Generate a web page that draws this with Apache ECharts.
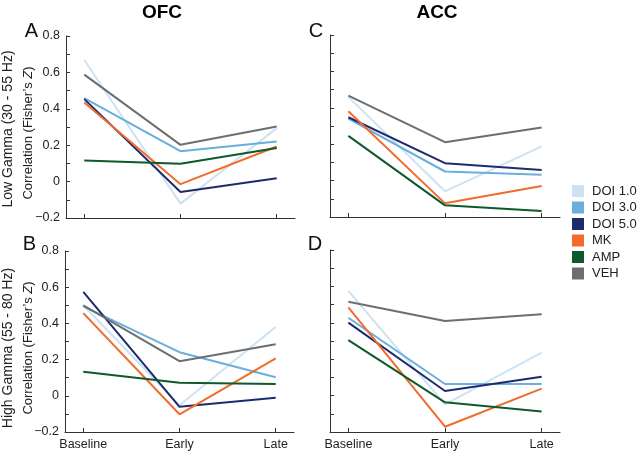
<!DOCTYPE html>
<html>
<head>
<meta charset="utf-8">
<script src="https://cdn.jsdelivr.net/npm/echarts@6/dist/echarts.min.js"></script>
<style>html,body{margin:0;padding:0;background:#fff}#c{width:640px;height:451px}</style>
</head>
<body>
<div id="c"></div>
<script>
// ---- data ----
const categories = ['Baseline', 'Early', 'Late'];
const groups = ['DOI 1.0', 'DOI 3.0', 'DOI 5.0', 'MK', 'AMP', 'VEH'];
const colors = ['#cde3f3', '#6aaedb', '#1d2b6e', '#f26b2b', '#0d5a2c', '#6e6e6e'];
const yTickValues = [-0.2, 0, 0.2, 0.4, 0.6, 0.8];

// Panel A: OFC, Low Gamma
const ofcLowDOI1 = [0.668, -0.121, 0.294];
const ofcLowDOI3 = [0.458, 0.167, 0.220];
const ofcLowDOI5 = [0.453, -0.057, 0.019];
const ofcLowMK   = [0.434, -0.014, 0.193];
const ofcLowAMP  = [0.116, 0.098, 0.184];
const ofcLowVEH  = [0.588, 0.202, 0.303];
// Panel C: ACC, Low Gamma
const accLowDOI1 = [0.460, -0.059, 0.188];
const accLowDOI3 = [0.341, 0.050, 0.032];
const accLowDOI5 = [0.348, 0.096, 0.058];
const accLowMK   = [0.381, -0.125, -0.030];
const accLowAMP  = [0.246, -0.136, -0.167];
const accLowVEH  = [0.467, 0.211, 0.292];
// Panel B: OFC, High Gamma
const ofcHighDOI1 = [0.500, -0.052, 0.380];
const ofcHighDOI3 = [0.494, 0.241, 0.102];
const ofcHighDOI5 = [0.574, -0.061, -0.011];
const ofcHighMK   = [0.457, -0.102, 0.207];
const ofcHighAMP  = [0.133, 0.072, 0.065];
const ofcHighVEH  = [0.500, 0.191, 0.285];
// Panel D: ACC, High Gamma
const accHighDOI1 = [0.575, -0.048, 0.236];
const accHighDOI3 = [0.428, 0.064, 0.064];
const accHighDOI5 = [0.401, 0.025, 0.104];
const accHighMK   = [0.485, -0.171, 0.038];
const accHighAMP  = [0.305, -0.037, -0.088];
const accHighVEH  = [0.516, 0.410, 0.447];

const panels = [
  [ofcLowDOI1, ofcLowDOI3, ofcLowDOI5, ofcLowMK, ofcLowAMP, ofcLowVEH],
  [accLowDOI1, accLowDOI3, accLowDOI5, accLowMK, accLowAMP, accLowVEH],
  [ofcHighDOI1, ofcHighDOI3, ofcHighDOI5, ofcHighMK, ofcHighAMP, ofcHighVEH],
  [accHighDOI1, accHighDOI3, accHighDOI5, accHighMK, accHighAMP, accHighVEH]
];

// ---- layout ----
const FONT = '"Liberation Sans", Arial, Helvetica, sans-serif';
const AXC = '#333';
const grids = [
  { left: 66, top: 36, width: 229, height: 182 },
  { left: 330, top: 35, width: 230, height: 182 },
  { left: 65, top: 251, width: 229, height: 181 },
  { left: 330, top: 250, width: 230, height: 182 }
];
const showYLabels = [true, false, true, false];
const showXLabels = [false, false, true, true];

function yFmt(v) {
  const r = Math.round(v * 10);
  if (r % 2 !== 0) return '';
  if (r === 0) return '0';
  const s = (Math.abs(r) / 10).toFixed(1);
  return r < 0 ? '\u22120' + s.slice(1) : s;
}

const xAxes = grids.map((g, i) => ({
  gridIndex: i, type: 'value', min: -0.19, max: 2.19,
  axisLine: { show: true, onZero: false, lineStyle: { color: AXC, width: 1 } },
  axisTick: { show: true, inside: true, length: 4, customValues: [0, 1, 2], lineStyle: { color: AXC } },
  axisLabel: {
    show: showXLabels[i], customValues: [0, 1, 2], margin: 6,
    formatter: v => categories[Math.round(v)] || '',
    fontFamily: FONT, fontSize: 12.5, color: '#222'
  },
  splitLine: { show: false }
}));
const yAxes = grids.map((g, i) => ({
  gridIndex: i, type: 'value', min: -0.2, max: 0.8, interval: 0.1,
  axisLine: { show: true, onZero: false, lineStyle: { color: AXC, width: 1 } },
  axisTick: { show: true, inside: true, length: 4, lineStyle: { color: AXC } },
  axisLabel: {
    show: showYLabels[i], margin: 6, formatter: yFmt, showMinLabel: true, showMaxLabel: true,
    fontFamily: FONT, fontSize: 12.5, color: '#222'
  },
  splitLine: { show: false }
}));

const series = [];
panels.forEach((pan, pi) => {
  pan.forEach((vals, gi) => {
    series.push({
      name: groups[gi], type: 'line', xAxisIndex: pi, yAxisIndex: pi,
      data: vals.map((v, k) => [k, v]),
      symbol: 'none', silent: true,
      lineStyle: { color: colors[gi], width: 2 },
      itemStyle: { color: colors[gi] },
      z: gi === 0 ? 1 : 2
    });
  });
});

function txt(x, y, text, size) {
  return {
    type: 'text', x: x, y: y, silent: true,
    style: { text: text, fontFamily: FONT, fontSize: size, fill: '#111', align: 'center', verticalAlign: 'middle' }
  };
}
function corrTitle(x, y) {
  return {
    type: 'text', x: x, y: y, rotation: Math.PI / 2, silent: true,
    style: {
      text: 'Correlation (Fisher\u2019s {i|Z})', align: 'center', verticalAlign: 'middle',
      fontFamily: FONT, fontSize: 13, fill: '#222',
      rich: { i: { fontStyle: 'italic', fontFamily: FONT, fontSize: 13, fill: '#222' } }
    }
  };
}
function bandTitle(x, y, text) {
  return {
    type: 'text', x: x, y: y, rotation: Math.PI / 2, silent: true,
    style: { text: text, align: 'center', verticalAlign: 'middle', fontFamily: FONT, fontSize: 14, fill: '#222' }
  };
}

const graphic = [
  { type: 'text', x: 162, y: 13, silent: true, style: { text: 'OFC', align: 'center', verticalAlign: 'middle', fontFamily: FONT, fontSize: 19, fontWeight: 'bold', fill: '#000' } },
  { type: 'text', x: 437, y: 13, silent: true, style: { text: 'ACC', align: 'center', verticalAlign: 'middle', fontFamily: FONT, fontSize: 19, fontWeight: 'bold', fill: '#000' } },
  txt(31.5, 31, 'A', 20),
  txt(316, 31, 'C', 20),
  txt(29.5, 244.5, 'B', 20),
  txt(315, 244.5, 'D', 20),
  bandTitle(8, 129, 'Low Gamma (30 - 55 Hz)'),
  corrTitle(28, 133),
  bandTitle(8, 348, 'High Gamma (55 - 80 Hz)'),
  corrTitle(28, 348)
];

const chart = echarts.init(document.getElementById('c'), null, { renderer: 'canvas' });
chart.setOption({
  animation: false,
  backgroundColor: '#fff',
  grid: grids,
  xAxis: xAxes,
  yAxis: yAxes,
  legend: {
    data: groups.map((g, i) => ({ name: g, itemStyle: { color: colors[i] } })),
    orient: 'vertical', left: 572, top: 184, padding: 0,
    icon: 'rect', itemWidth: 12, itemHeight: 12, itemGap: 2.5,
    selectedMode: false,
    textStyle: { fontFamily: FONT, fontSize: 13, color: '#222', lineHeight: 14, padding: [0, 0, 0, 3] }
  },
  graphic: graphic,
  series: series
});
</script>
</body>
</html>
